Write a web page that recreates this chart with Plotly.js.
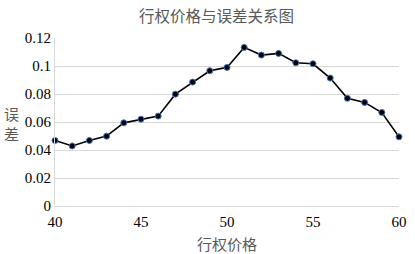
<!DOCTYPE html>
<html><head><meta charset="utf-8">
<script src="https://cdn.plot.ly/plotly-3.0.1.min.js"></script>
<style>html,body{margin:0;padding:0;background:#fff}</style>
</head><body><div id="c" style="width:415px;height:254px"></div>
<script>
const strikes = [40,41,42,43,44,45,46,47,48,49,50,51,52,53,54,55,56,57,58,59,60];
const errors = [0.0468,0.0429,0.0468,0.0499,0.0594,0.0620,0.0642,0.0799,0.0885,0.0966,0.0990,0.1133,0.1078,0.1090,0.1023,0.1016,0.0914,0.0769,0.0740,0.0668,0.0494];
const yTicks = [0,0.02,0.04,0.06,0.08,0.1,0.12];
const yTickText = ['0','0.02','0.04','0.06','0.08','0.1','0.12'];
const xTicks = [40,45,50,55,60];
const titleText = '行权价格与误差关系图';
const xTitle = '行权价格';
const yTitle = '误<br>差';
const serif = 'Liberation Serif, Times New Roman, serif';
const cjk = 'Noto Sans CJK SC, sans-serif';
Plotly.newPlot('c', [{
  x: strikes, y: errors, type: 'scatter', mode: 'lines+markers', cliponaxis: false,
  line: {color: '#000000', width: 1.6},
  marker: {color: '#000000', size: 6, line: {color: '#4472c4', width: 1}}
}], {
  width: 415, height: 254,
  margin: {l: 55, r: 16, t: 38, b: 48},
  paper_bgcolor: '#ffffff', plot_bgcolor: '#ffffff',
  showlegend: false,
  xaxis: {range: [40, 60], tickvals: xTicks, showgrid: false, zeroline: false,
    showline: true, linecolor: '#d9d9d9', linewidth: 1, ticks: '', ticklabelstandoff: 2,
    tickfont: {family: serif, size: 15, color: '#000'}},
  yaxis: {range: [0, 0.12], tickvals: yTicks, ticktext: yTickText, showgrid: true,
    gridcolor: '#d9d9d9', gridwidth: 1, zeroline: false,
    showline: true, linecolor: '#d9d9d9', linewidth: 1, ticks: '',
    tickfont: {family: serif, size: 15, color: '#000'}},
  annotations: [
    {text: titleText, xref: 'paper', yref: 'paper', x: 0.47, y: 1, yshift: 23, showarrow: false,
      font: {family: cjk, size: 15.5, color: '#595959'}, xanchor: 'center', yanchor: 'middle'},
    {text: xTitle, xref: 'paper', yref: 'paper', x: 0.5, y: 0, yshift: -25, showarrow: false,
      font: {family: cjk, size: 15, color: '#595959'}, xanchor: 'center', yanchor: 'top'},
    {text: yTitle, xref: 'paper', yref: 'paper', x: 0, xshift: -44, y: 0.49, showarrow: false,
      font: {family: cjk, size: 15, color: '#595959'}, xanchor: 'center', yanchor: 'middle'}
  ]
}, {displayModeBar: false, staticPlot: true});
</script></body></html>
